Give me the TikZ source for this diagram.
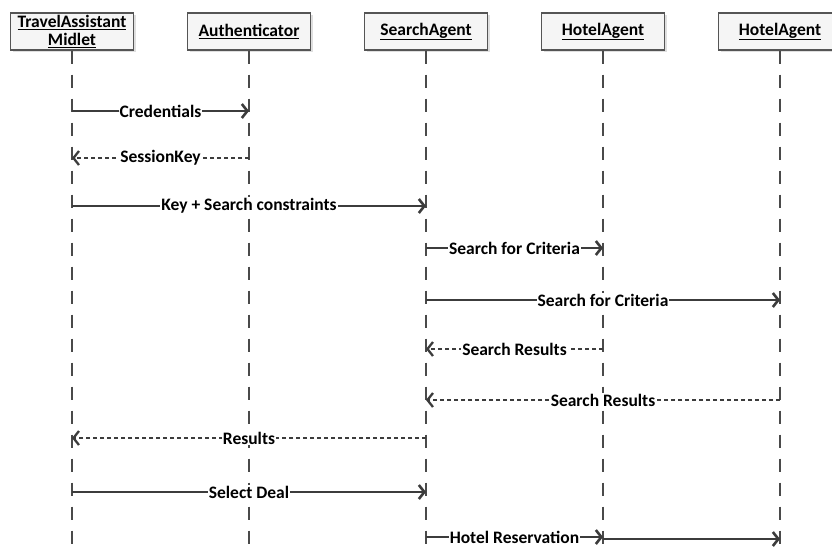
\documentclass[tikz,border=0pt]{standalone}
\usepackage{fontspec}
\setmainfont{Carlito}
\usetikzlibrary{arrows.meta,shadows}

\definecolor{boxgray}{HTML}{555555}
\definecolor{boxfill}{HTML}{F5F5F5}
\definecolor{lifegray}{HTML}{4A4A4A}
\definecolor{msggray}{HTML}{3C3C3C}

\begin{document}
\begin{tikzpicture}[x=1pt,y=-1pt,>={Straight Barb[length=5.5pt,width=14pt]},node distance=177pt,
                    font=\fontsize{17.5}{17.5}\selectfont\bfseries,
                    object/.style={rectangle,draw=boxgray,line width=1.3pt,fill=boxfill,
                      minimum width=123pt,minimum height=37pt,inner ysep=0.5pt,align=center,
                      drop shadow={shadow xshift=2pt,shadow yshift=-2pt,fill=black!25}},
                    lifeline/.style={draw=lifegray,line width=2pt,dash pattern=on 13pt off 11pt},
                    call/.style={->,draw=msggray,line width=2.6pt},
                    reply/.style={->,draw=msggray,line width=2.3pt,dash pattern=on 4.5pt off 2.5pt}]

  \useasboundingbox (0,0) rectangle (832,550);

  \node[object] (midlet) at (72,31.5) {\underline{TravelAssistant}\\\underline{Midlet}};
  \node[object] (auth) [right of=midlet] {\underline{Authenticator}};
  \node[object] (search) [right of=auth] {\underline{SearchAgent}};
  \node[object] (hotelA) [right of=search] {\underline{HotelAgent}};
  \node[object] (hotelB) [right of=hotelA] {\underline{HotelAgent}};

  % lifelines
  \foreach \n in {midlet,auth,search,hotelA,hotelB}{
    \coordinate (\n-end) at (\n |- 0,550);
    \draw[lifeline] (\n) -- (\n-end);
  }

  \path[every node/.style={fill=white,inner sep=1pt,text=black}]
    (midlet |- 0,111) edge [call] node {Credentials} (auth |- 0,111)
    (auth |- 0,158) edge [reply] node {SessionKey} (midlet |- 0,158)
    (midlet |- 0,206) edge [call] node {Key + Search constraints} (search |- 0,206)
    (search |- 0,248) edge [call] node {Search for Criteria} (hotelA |- 0,248)
    (search |- 0,300) edge [call] node {Search for Criteria} (hotelB |- 0,300)
    (hotelA |- 0,349) edge [reply] node {Search Results} (search |- 0,349)
    (hotelB |- 0,400) edge [reply] node {Search Results} (search |- 0,400)
    (search |- 0,438) edge [reply] node {Results} (midlet |- 0,438)
    (midlet |- 0,492) edge [call] node {Select Deal} (search |- 0,492)
    (search |- 0,537) edge [call] node {Hotel Reservation} (hotelA |- 0,537)
    (hotelA |- 0,539) edge [call] (hotelB |- 0,539)
;
\end{tikzpicture}
\end{document}
